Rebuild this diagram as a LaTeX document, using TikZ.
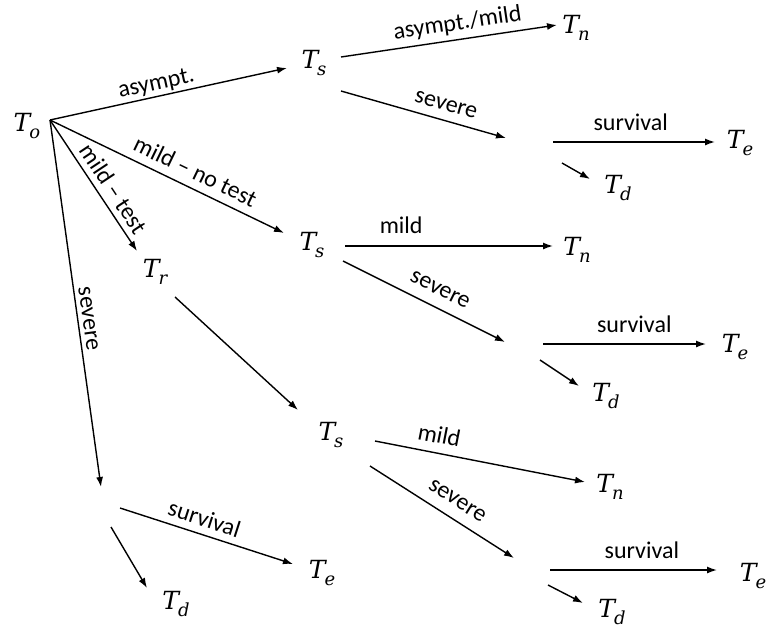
\documentclass[tikz,border=0pt]{standalone}
\usepackage{fontspec}
\setmainfont{Carlito}
\newfontfamily\symfont{DejaVu Serif}
\usetikzlibrary{arrows.meta}
% italic state symbol T with a subscript
\newcommand\Tsub[1]{{\symfont\itshape T\kern-1pt\raisebox{-0.27em}{\fontsize{18}{20}\selectfont #1}}}
\begin{document}
\begin{tikzpicture}[x=1pt,y=-1pt,
  conn/.style={line width=1.4pt,-{Latex[length=10pt,width=7pt]}},
  lab/.style={font=\fontsize{24}{28}\selectfont,sloped,above=2pt,inner sep=0pt},
  st/.style={font=\fontsize{25}{30}\selectfont,inner sep=0pt}]
\useasboundingbox (0,0) rectangle (768,635);

% states
\node[st] (To)  at (27,126)  {\Tsub{o}};
\node[st] (Ts1) at (314,63)  {\Tsub{s}};
\node[st] (Tn1) at (576,28)  {\Tsub{n}};
\node[st] (Te1) at (740,143) {\Tsub{e}};
\node[st] (Td1) at (618,188) {\Tsub{d}};
\node[st] (Ts2) at (312,245) {\Tsub{s}};
\node[st] (Tn2) at (577,250) {\Tsub{n}};
\node[st] (Te2) at (735,347) {\Tsub{e}};
\node[st] (Td2) at (606,396) {\Tsub{d}};
\node[st] (Tr)  at (155,272) {\Tsub{r}};
\node[st] (Ts3) at (331,435) {\Tsub{s}};
\node[st] (Tn3) at (610,487) {\Tsub{n}};
\node[st] (Te3) at (753,576) {\Tsub{e}};
\node[st] (Td3) at (612,612) {\Tsub{d}};
\node[st] (Te0) at (322,573) {\Tsub{e}};
\node[st] (Td0) at (176,604) {\Tsub{d}};

% arrow end points
\coordinate (o)    at (50,120);
\coordinate (o1)   at (287,68);
\coordinate (o2)   at (284,233);
\coordinate (o3)   at (137,251);
\coordinate (o4)   at (101,487);
% first T_s
\coordinate (s1a)  at (341,57);
\coordinate (s1ae) at (557,25);
\coordinate (s1b)  at (341,91);
\coordinate (s1be) at (506,138);
\coordinate (b1a)  at (553,142);
\coordinate (b1ae) at (715,142);
\coordinate (b1b)  at (562,163);
\coordinate (b1be) at (590,179);
% second T_s
\coordinate (s2a)  at (345,246);
\coordinate (s2ae) at (553,246);
\coordinate (s2b)  at (343,261);
\coordinate (s2be) at (505,342);
\coordinate (b2a)  at (543,344);
\coordinate (b2ae) at (706,344);
\coordinate (b2b)  at (540,360);
\coordinate (b2be) at (579,386);
% T_r and third T_s
\coordinate (r1)   at (175,297);
\coordinate (r1e)  at (298,410);
\coordinate (s3a)  at (375,441);
\coordinate (s3ae) at (585,482);
\coordinate (s3b)  at (370,466);
\coordinate (s3be) at (514,558);
\coordinate (b3a)  at (550,570);
\coordinate (b3ae) at (717,570);
\coordinate (b3b)  at (548,585);
\coordinate (b3be) at (583,603);
% severe from T_o
\coordinate (b0a)  at (120,508);
\coordinate (b0ae) at (293,564);
\coordinate (b0b)  at (111,527);
\coordinate (b0be) at (147,588);

% connectors
\draw[conn] (o) -- node[lab,pos=.46] {asympt.} (o1);
\draw[conn] (o) -- node[lab,pos=.59,above=6pt] {mild -- no test} (o2);
\draw[conn] (o) -- node[lab,pos=.59,above=4pt] {mild -- test} (o3);
\draw[conn] (o) -- node[lab,pos=.545,above=2pt] {severe} (o4);

\draw[conn] (s1a) -- node[lab,pos=.55,above=3pt] {asympt./mild} (s1ae);
\draw[conn] (s1b) -- node[lab,pos=.61,above=7pt] {severe} (s1be);
\draw[conn] (b1a) -- node[lab,pos=.48,above=9pt] {survival} (b1ae);
\draw[conn] (b1b) -- (b1be);

\draw[conn] (s2a) -- node[lab,pos=.27,above=10pt] {mild} (s2ae);
\draw[conn] (s2b) -- node[lab,pos=.55,above=9pt] {severe} (s2be);
\draw[conn] (b2a) -- node[lab,pos=.56,above=9pt] {survival} (b2ae);
\draw[conn] (b2b) -- (b2be);

\draw[conn] (r1) -- (r1e);
\draw[conn] (s3a) -- node[lab,pos=.29,above=7pt] {mild} (s3ae);
\draw[conn] (s3b) -- node[lab,pos=.54,above=9pt] {severe} (s3be);
\draw[conn] (b3a) -- node[lab,pos=.55,above=9pt] {survival} (b3ae);
\draw[conn] (b3b) -- (b3be);

\draw[conn] (b0a) -- node[lab,pos=.46,above=5pt] {survival} (b0ae);
\draw[conn] (b0b) -- (b0be);
\end{tikzpicture}
\end{document}
